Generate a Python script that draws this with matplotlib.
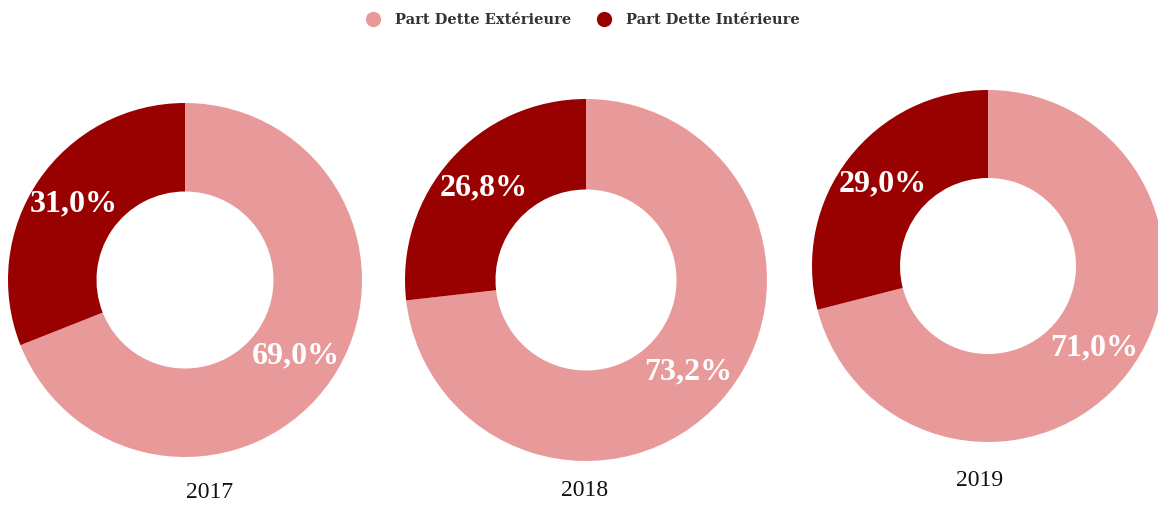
import numpy as np
import matplotlib.pyplot as plt
from matplotlib.lines import Line2D

years = ['2017', '2018', '2019']
part_ext = [69.0, 73.2, 71.0]
part_int = [31.0, 26.8, 29.0]
series = ['Part Dette Extérieure', 'Part Dette Intérieure']
colors = ['#E89A9A', '#990000']

W, H = 1158, 505
fig = plt.figure(figsize=(W / 100, H / 100), dpi=100)

# donut centre (px), outer radius (px), year label position (px)
boxes = [((185, 280), 177, (210, 493)),
         ((586, 280), 181, (585, 490)),
         ((988, 266), 176, (980, 480))]


def fmt(v):
    return ('%.1f%%' % v).replace('.', ',')


for yr, ve, vi, ((cx, cy), r, (tx, ty)) in zip(years, part_ext, part_int, boxes):
    ax = fig.add_axes([(cx - r) / W, (H - cy - r) / H, 2 * r / W, 2 * r / H])
    vals = [ve, vi]
    wedges, _ = ax.pie(vals, colors=colors, startangle=90, counterclock=False,
                       radius=1.0, wedgeprops=dict(width=0.5, edgecolor='none'))
    for w, v in zip(wedges, vals):
        ang = np.deg2rad((w.theta1 + w.theta2) / 2)
        ax.text(0.76 * np.cos(ang), 0.76 * np.sin(ang), fmt(v), ha='center', va='center',
                color='white', fontsize=23, fontweight='bold', family='Liberation Serif')
    ax.set_xlim(-1, 1)
    ax.set_ylim(-1, 1)
    ax.set_aspect('equal')
    ax.axis('off')
    fig.text(tx / W, 1 - ty / H, yr, ha='center', va='center', fontsize=17,
             family='Liberation Serif', color='#111111')

handles = [Line2D([], [], marker='o', linestyle='none', markersize=11,
                  markerfacecolor=c, markeredgecolor='none') for c in colors]
fig.legend(handles, series, loc='center', bbox_to_anchor=(0.5, 1 - 20 / H), ncol=2,
           frameon=False, handletextpad=0.5, columnspacing=1.3,
           prop=dict(family='DejaVu Serif', size=10.5, weight='bold'), labelcolor='#333333')

fig.savefig('out.png', dpi=100, facecolor='white')
